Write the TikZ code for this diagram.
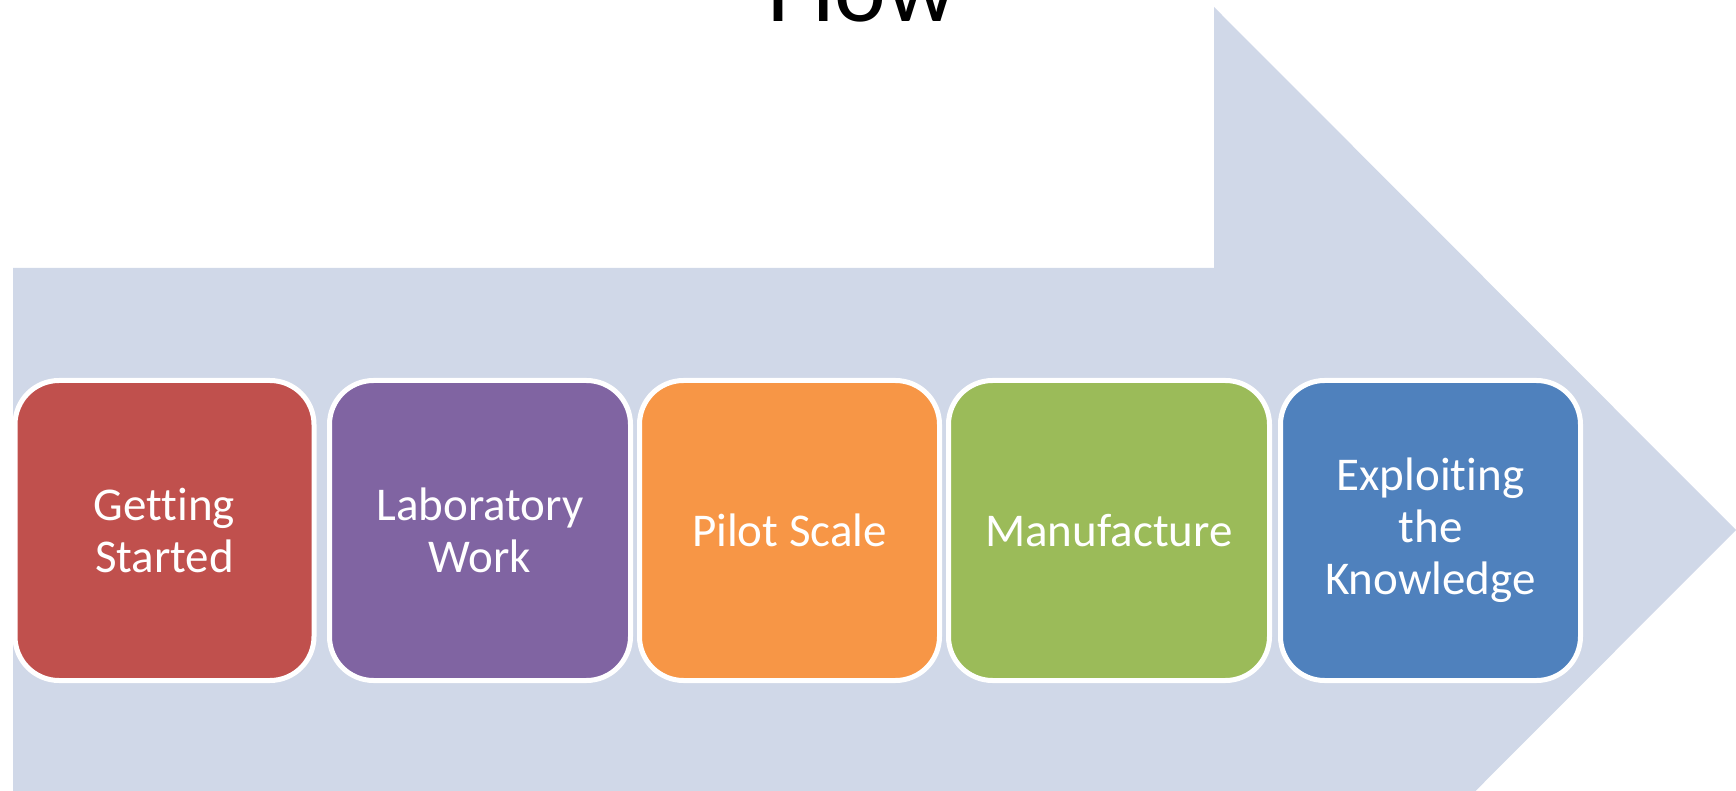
\documentclass[tikz,border=0pt]{standalone}
\usepackage{fontspec}
\setmainfont{Carlito}[Ligatures=CommonOff]
\definecolor{arrowfill}{HTML}{D0D8E8}
\definecolor{stagered}{HTML}{C0504D}
\definecolor{stagepurple}{HTML}{8064A2}
\definecolor{stageorange}{HTML}{F79646}
\definecolor{stagegreen}{HTML}{9BBB59}
\definecolor{stageblue}{HTML}{4F81BD}
\tikzset{
  stagebox/.style={rectangle, rounded corners=22pt, draw=white, line width=2.5pt,
    minimum height=150pt, text=white, align=center, inner sep=0pt,
    font=\fontsize{23.5}{26}\selectfont},
  titletext/.style={anchor=base, text=black, inner sep=0pt, font=\fontsize{49}{58}\selectfont}
}
\begin{document}
\begin{tikzpicture}[x=0.5pt,y=-0.5pt]
\useasboundingbox (0,0) rectangle (1736,791);
\fill[arrowfill] (13,268) -- (1214,268) -- (1214,7) -- (1736,530) -- (1214,1053) -- (1214,792) -- (13,792) -- cycle;
\node[titletext] (flow) at (862,22) {Flow};
\node[stagebox, fill=stagered, minimum width=149.5pt] (s1) at (164.5,530.5) {Getting\\Started};
\node[stagebox, fill=stagepurple, minimum width=150.5pt] (s2) at (480,530.5) {Laboratory\\Work};
\node[stagebox, fill=stageorange, minimum width=150pt] (s3) at (789.5,530.5) {Pilot Scale};
\node[stagebox, fill=stagegreen, minimum width=160.5pt] (s4) at (1109,530.5) {Manufacture};
\node[stagebox, fill=stageblue, minimum width=150pt] (s5) at (1430.5,530.5) {Exploiting\\the\\Knowledge};
\end{tikzpicture}
\end{document}
